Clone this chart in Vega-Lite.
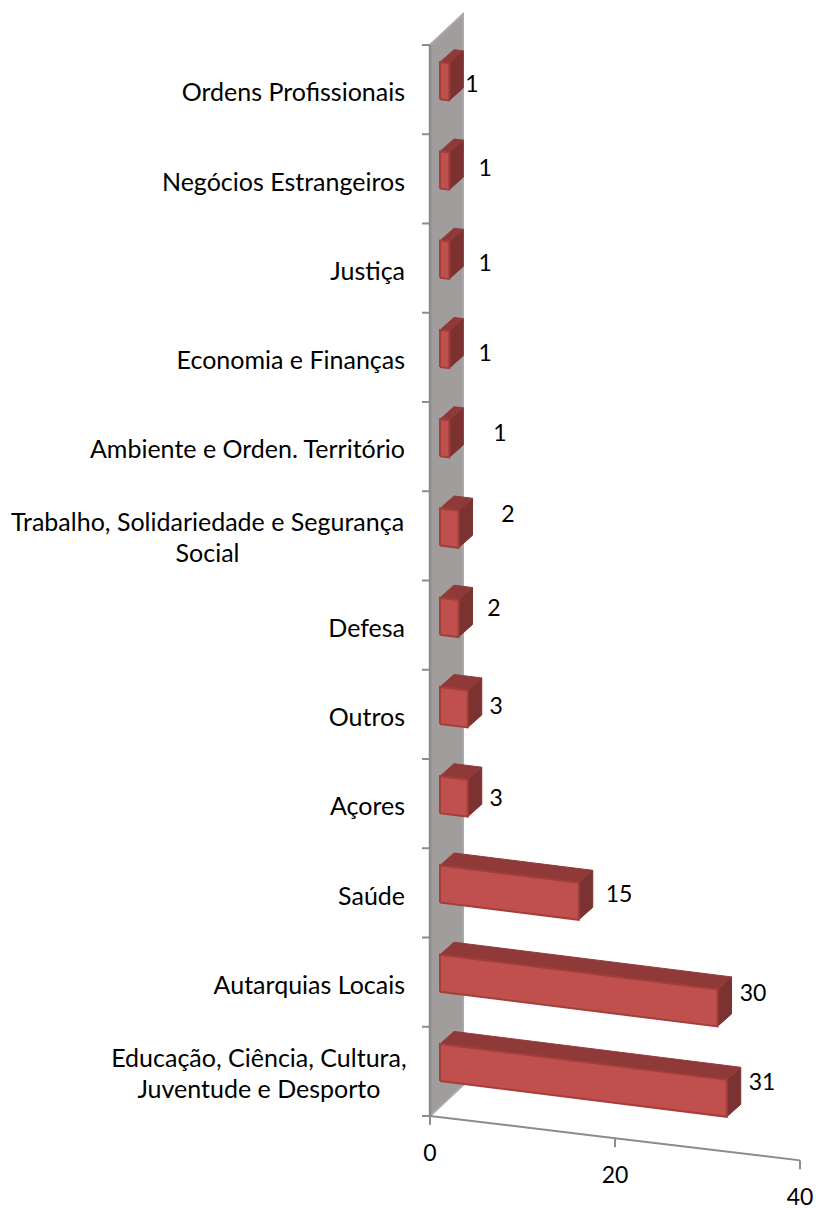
{
"$schema":"https://vega.github.io/schema/vega-lite/v6.json",
"width":816,"height":1209,"padding":0,
"autosize":{"type":"none"},
"background":"white",
"config":{"view":{"stroke":null}},
"data":{"values":[
{"category":"Educação, Ciência, Cultura,\nJuventude e Desporto","value":31},
{"category":"Autarquias Locais","value":30},
{"category":"Saúde","value":15},
{"category":"Açores","value":3},
{"category":"Outros","value":3},
{"category":"Defesa","value":2},
{"category":"Trabalho, Solidariedade e Segurança\nSocial","value":2},
{"category":"Ambiente e Orden. Território","value":1},
{"category":"Economia e Finanças","value":1},
{"category":"Justiça","value":1},
{"category":"Negócios Estrangeiros","value":1},
{"category":"Ordens Profissionais","value":1}
]},
"transform":[
{"window":[{"op":"row_number","as":"n"}]},
{"calculate":"datum.n-1","as":"rank"},
{"calculate":"[0,1,2,3,4]","as":"vertex"},
{"flatten":["vertex"]}
],
"encoding":{
"x":{"field":"x","type":"quantitative","axis":null,"scale":{"domain":[-46.49,41.73],"nice":false,"zero":false}},
"y":{"field":"y","type":"quantitative","axis":null,"scale":{"domain":[-1.042,12.504],"nice":false,"zero":false}}
},
"layer":[
{"data":{"values":[{"corner":0},{"corner":1},{"corner":2},{"corner":3},{"corner":4}]},
"transform":[
{"calculate":"[0,3.568,3.568,0,0][datum.corner]","as":"x"},
{"calculate":"[0,0.347,12.347,12,0][datum.corner]","as":"y"}],
"mark":{"type":"line","fill":"#A19D9D","stroke":"#ABA8A8","strokeWidth":2},
"encoding":{"order":{"field":"corner","type":"quantitative"}}},
{"data":{"values":[{"edge":0},{"edge":12}]},
"transform":[{"calculate":"0","as":"x"},{"calculate":"datum.edge","as":"y"}],
"mark":{"type":"line","stroke":"#8C8C8C","strokeWidth":2.5},"encoding":{}},
{"data":{"values":[{"c":0},{"c":1},{"c":2},{"c":3},{"c":4},{"c":5},{"c":6},{"c":7},{"c":8},{"c":9},{"c":10},{"c":11},{"c":12}]},
"transform":[{"calculate":"-0.865","as":"x"},{"calculate":"0","as":"x2"},{"calculate":"datum.c","as":"y"}],
"mark":{"type":"rule","stroke":"#8C8C8C","strokeWidth":2},
"encoding":{"x2":{"field":"x2"}}},
{"data":{"values":[{"tick":0},{"tick":20},{"tick":40}]},
"transform":[{"calculate":"datum.tick","as":"x"},{"calculate":"-0.01243*datum.tick","as":"y"}],
"mark":{"type":"line","stroke":"#8C8C8C","strokeWidth":2},"encoding":{}},
{"data":{"values":[{"tick":0},{"tick":20},{"tick":40}]},
"transform":[{"calculate":"datum.tick","as":"x"},{"calculate":"-0.01243*datum.tick","as":"y"},{"calculate":"datum.y-0.1","as":"y2"}],
"mark":{"type":"rule","stroke":"#8C8C8C","strokeWidth":2},
"encoding":{"y2":{"field":"y2"}}},
{"data":{"values":[{"tick":0},{"tick":20},{"tick":40}]},
"transform":[{"calculate":"datum.tick","as":"x"},{"calculate":"-0.01243*datum.tick-0.403","as":"y"}],
"mark":{"type":"text","font":"Lato","fontSize":23,"color":"black","baseline":"middle","align":"center","dy":2},
"encoding":{"text":{"field":"tick","type":"quantitative"}}},
{"transform":[
{"calculate":"[0,0,1,1,0][datum.vertex]","as":"d"},
{"calculate":"datum.value+1.08+1.514*datum.d","as":"x"},
{"calculate":"datum.rank+0.392+[0,1,1,0,0][datum.vertex]*0.415-0.01295*datum.value+0.14*datum.d","as":"y"}],
"mark":{"type":"line","fill":"#7C3231","stroke":"#7C3231","strokeWidth":1},
"encoding":{"detail":{"field":"category"},"order":{"field":"vertex","type":"quantitative"}}},
{"transform":[
{"calculate":"[0,1,1,0,0][datum.vertex]","as":"a"},
{"calculate":"[0,0,1,1,0][datum.vertex]","as":"d"},
{"calculate":"datum.a*datum.value+1.08+1.514*datum.d","as":"x"},
{"calculate":"datum.rank+0.807-0.01295*datum.a*datum.value+0.14*datum.d","as":"y"}],
"mark":{"type":"line","fill":"#8F3A39","stroke":"#8F3A39","strokeWidth":1},
"encoding":{"detail":{"field":"category"},"order":{"field":"vertex","type":"quantitative"}}},
{"transform":[
{"calculate":"[0,1,1,0,0][datum.vertex]","as":"a"},
{"calculate":"[0,0,1,1,0][datum.vertex]","as":"b"},
{"calculate":"datum.a*datum.value+1.08","as":"x"},
{"calculate":"datum.rank+0.392+datum.b*0.415-0.01295*datum.a*datum.value","as":"y"}],
"mark":{"type":"line","fill":"#C0504D","stroke":"#A33E3B","strokeWidth":2},
"encoding":{"detail":{"field":"category"},"order":{"field":"vertex","type":"quantitative"}}},
{"transform":[
{"filter":"datum.vertex==0 && indexof(datum.category,'\\n')<0"},
{"calculate":"-2.7","as":"x"},{"calculate":"datum.rank+0.47","as":"y"}],
"mark":{"type":"text","font":"Lato","fontSize":25,"color":"black","baseline":"middle","align":"right","dy":1},
"encoding":{"text":{"field":"category"}}},
{"transform":[
{"filter":"datum.vertex==0 && indexof(datum.category,'\\n')>=0"},
{"calculate":"datum.rank==0?-18.5:-24.05","as":"x"},{"calculate":"datum.rank+0.65","as":"y"}],
"mark":{"type":"text","font":"Lato","fontSize":25,"color":"black","baseline":"middle","align":"center","lineBreak":"\n","lineHeight":31,"dy":1},
"encoding":{"text":{"field":"category"}}},
{"transform":[
{"filter":"datum.vertex==0"},
{"calculate":"[35.89,34.92,20.43,7.14,7.14,6.92,8.43,7.57,5.95,5.95,5.95,4.54][datum.rank]","as":"x"},
{"calculate":"[0.392,1.389,2.499,3.574,4.605,5.703,6.756,7.664,8.56,9.569,10.633,11.574][datum.rank]","as":"y"}],
"mark":{"type":"text","font":"Lato","fontSize":23,"color":"black","baseline":"middle","align":"center","dy":2},
"encoding":{"text":{"field":"value","type":"quantitative"}}}
]
}
